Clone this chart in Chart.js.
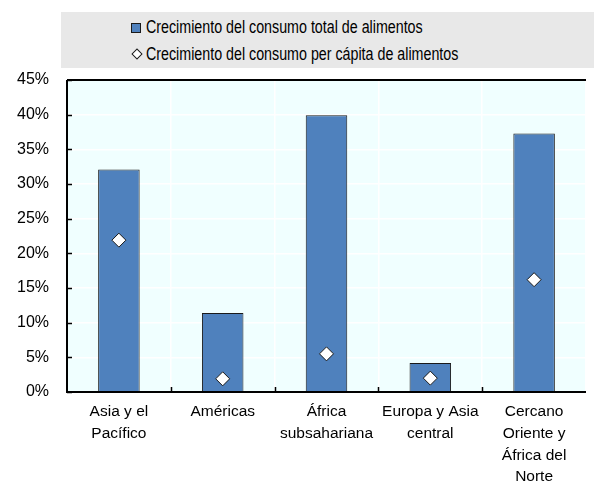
<!DOCTYPE html>
<html>
<head>
    <meta charset="utf-8">
    <title>Crecimiento del consumo de alimentos</title>
    <script src="https://cdn.jsdelivr.net/npm/chart.js@4.4.0/dist/chart.umd.min.js"></script>
    <style>
        body {
            margin: 0;
            padding: 0;
            background: #ffffff;
            font-family: "Liberation Sans", Arial, sans-serif;
        }
        #wrap {
            position: relative;
            width: 594px;
            height: 489px;
        }
        #legend {
            position: absolute;
            left: 61px;
            top: 12px;
            width: 533px;
            height: 56px;
            background: #e8e8e8;
            font-size: 17.5px;
            color: #000;
        }
        .leg-item {
            position: absolute;
            left: 70px;
            white-space: nowrap;
            line-height: 20px;
        }
        .leg-text {
            position: absolute;
            left: 15px;
            top: 0;
            transform: scaleX(0.815);
            transform-origin: left center;
        }
        .leg-box {
            position: absolute;
            left: 0;
            top: 6px;
            width: 8px;
            height: 8px;
            background: #4f81bd;
            border: 1px solid #1a1a1a;
        }
        .leg-diamond {
            position: absolute;
            left: 2px;
            top: 6px;
            width: 6px;
            height: 6px;
            background: #fff;
            border: 1px solid #1a1a1a;
            transform: rotate(45deg);
        }
        canvas {
            position: absolute;
            left: 0;
            top: 0;
        }
    </style>
</head>
<body>
    <div id="wrap">
        <div id="legend">
            <div class="leg-item" style="top: 5px;"><span class="leg-box"></span><span class="leg-text">Crecimiento del consumo total de alimentos</span></div>
            <div class="leg-item" style="top: 32px;"><span class="leg-diamond"></span><span class="leg-text">Crecimiento del consumo per cápita de alimentos</span></div>
        </div>
        <canvas id="chart" width="594" height="489"></canvas>
    </div>

    <script>
        const regions = [
            ['Asia y el', 'Pacífico'],
            ['Américas'],
            ['África', 'subsahariana'],
            ['Europa y Asia', 'central'],
            ['Cercano', 'Oriente y', 'África del', 'Norte']
        ];
        const totalGrowth = [32.1, 11.4, 39.9, 4.2, 37.3];
        const perCapitaGrowth = [21.9, 1.9, 5.5, 2.0, 16.2];
        const yTicks = [0, 5, 10, 15, 20, 25, 30, 35, 40, 45];

        // background, frame and inward ticks
        const framePlugin = {
            id: 'frame',
            beforeDraw(chart) {
                const a = chart.chartArea;
                const ctx = chart.ctx;
                ctx.save();
                ctx.fillStyle = '#f0ffff';
                ctx.fillRect(a.left, a.top, a.right - a.left, a.bottom - a.top);
                ctx.restore();
            },
            afterDatasetsDraw(chart) {
                const a = chart.chartArea;
                const ctx = chart.ctx;
                const y = chart.scales.y;
                ctx.save();
                ctx.strokeStyle = '#000';
                ctx.lineWidth = 2;
                ctx.beginPath();
                ctx.moveTo(a.left, a.top);
                ctx.lineTo(a.right, a.top);
                ctx.moveTo(a.left, a.top);
                ctx.lineTo(a.left, a.bottom);
                ctx.lineTo(a.right, a.bottom);
                ctx.stroke();
                ctx.lineWidth = 1.5;
                ctx.beginPath();
                yTicks.forEach(v => {
                    const py = Math.round(y.getPixelForValue(v)) + 0.5;
                    ctx.moveTo(a.left, py);
                    ctx.lineTo(a.left + 5, py);
                });
                const step = (a.right - a.left) / regions.length;
                for (let i = 1; i < regions.length; i++) {
                    const px = Math.round(a.left + i * step) + 0.5;
                    ctx.moveTo(px, a.bottom);
                    ctx.lineTo(px, a.bottom - 5);
                }
                ctx.stroke();
                ctx.restore();
            }
        };

        Chart.defaults.font.family = '"Liberation Sans", Arial, sans-serif';
        Chart.defaults.font.size = 16;
        Chart.defaults.color = '#000';

        new Chart(document.getElementById('chart'), {
            data: {
                labels: regions,
                datasets: [
                    {
                        type: 'bar',
                        label: 'Crecimiento del consumo total de alimentos',
                        data: totalGrowth,
                        backgroundColor: '#4f81bd',
                        borderColor: '#1a1a1a',
                        borderWidth: 1,
                        categoryPercentage: 1,
                        barPercentage: 0.4,
                        order: 2
                    },
                    {
                        type: 'line',
                        label: 'Crecimiento del consumo per cápita de alimentos',
                        data: perCapitaGrowth,
                        showLine: false,
                        pointStyle: 'rectRot',
                        pointRadius: 7,
                        pointBackgroundColor: '#ffffff',
                        pointBorderColor: '#1a1a1a',
                        pointBorderWidth: 1,
                        order: 1
                    }
                ]
            },
            options: {
                responsive: false,
                animation: false,
                layout: { padding: { top: 80, right: 0, left: 0, bottom: 0 } },
                plugins: {
                    legend: { display: false },
                    tooltip: { enabled: false }
                },
                scales: {
                    x: {
                        offset: true,
                        grid: {
                            offset: true,
                            color: '#ffffff',
                            lineWidth: 1.5,
                            drawTicks: false
                        },
                        border: { display: false },
                        ticks: {
                            padding: 9,
                            maxRotation: 0,
                            autoSkip: false,
                            font: { size: 15.5, lineHeight: 1.4 }
                        },
                        afterFit(scale) { scale.height = 97; }
                    },
                    y: {
                        min: 0,
                        max: 45,
                        grid: {
                            color: '#ffffff',
                            lineWidth: 1.5,
                            drawTicks: false
                        },
                        border: { display: false },
                        ticks: {
                            stepSize: 5,
                            padding: 18,
                            callback: v => v + '%'
                        },
                        afterFit(scale) { scale.width = 67; }
                    }
                }
            },
            plugins: [framePlugin]
        });
    </script>
</body>
</html>
